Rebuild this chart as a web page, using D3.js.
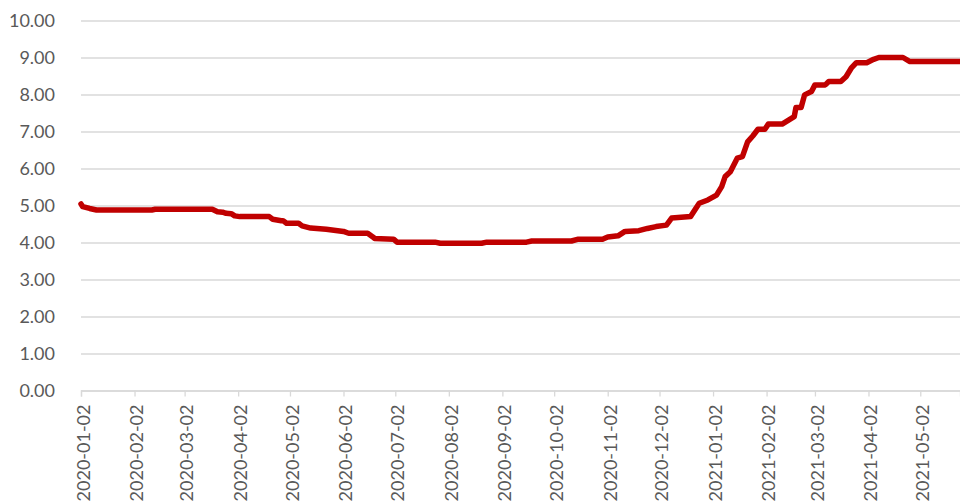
<!DOCTYPE html>
<html>
<head>
<meta charset="utf-8">
<script src="https://cdn.jsdelivr.net/npm/d3@7"></script>
<style>
  html, body { margin: 0; padding: 0; background: #fff; }
  svg { display: block; }
  .tick text { font-family: Lato, "Open Sans", sans-serif; fill: #595959; }
</style>
</head>
<body>
<svg id="chart" width="960" height="501"></svg>
<script>
// Series: date of each change point and the level on that date
const dates = [
  "2020-01-02","2020-01-03","2020-01-07","2020-01-11","2020-02-12","2020-02-14",
  "2020-03-18","2020-03-21","2020-03-24","2020-03-26","2020-03-29","2020-03-31",
  "2020-04-03","2020-04-20","2020-04-22","2020-04-27","2020-04-28","2020-04-30",
  "2020-05-07","2020-05-09","2020-05-14","2020-05-23","2020-06-02","2020-06-05",
  "2020-06-16","2020-06-19","2020-06-20","2020-07-01","2020-07-03","2020-07-25",
  "2020-07-28","2020-08-21","2020-08-24","2020-09-16","2020-09-19","2020-10-12",
  "2020-10-16","2020-10-30","2020-11-02","2020-11-08","2020-11-12","2020-11-20",
  "2020-11-25","2020-11-30","2020-12-06","2020-12-09","2020-12-20","2020-12-23",
  "2020-12-25","2020-12-30","2021-01-04","2021-01-07","2021-01-09","2021-01-12",
  "2021-01-16","2021-01-19","2021-01-22","2021-01-25","2021-01-28","2021-02-01",
  "2021-02-03","2021-02-11","2021-02-18","2021-02-19","2021-02-22","2021-02-24",
  "2021-02-28","2021-03-02","2021-03-08","2021-03-10","2021-03-17","2021-03-20",
  "2021-03-23","2021-03-26","2021-04-01","2021-04-05","2021-04-08","2021-04-22",
  "2021-04-26","2021-05-25"
];
const values = [
  5.04, 4.97, 4.92, 4.88, 4.88, 4.90,
  4.90, 4.83, 4.82, 4.79, 4.78, 4.72,
  4.70, 4.70, 4.63, 4.59, 4.59, 4.52,
  4.52, 4.45, 4.39, 4.36, 4.30, 4.25,
  4.25, 4.15, 4.11, 4.09, 4.01, 4.01,
  3.98, 3.98, 4.01, 4.01, 4.04, 4.04,
  4.09, 4.09, 4.15, 4.18, 4.30, 4.32,
  4.38, 4.43, 4.47, 4.66, 4.70, 4.92,
  5.06, 5.15, 5.28, 5.51, 5.78, 5.91,
  6.28, 6.32, 6.72, 6.88, 7.06, 7.06,
  7.20, 7.20, 7.40, 7.65, 7.65, 7.99,
  8.08, 8.26, 8.26, 8.35, 8.35, 8.48,
  8.71, 8.86, 8.86, 8.95, 9.00, 9.00,
  8.89, 8.89
];
// Axis tick labels
const xTickLabels = [
  "2020-01-02","2020-02-02","2020-03-02","2020-04-02","2020-05-02","2020-06-02",
  "2020-07-02","2020-08-02","2020-09-02","2020-10-02","2020-11-02","2020-12-02",
  "2021-01-02","2021-02-02","2021-03-02","2021-04-02","2021-05-02"
];
const yTicks = [0, 1, 2, 3, 4, 5, 6, 7, 8, 9, 10];

const parse = d3.utcParse("%Y-%m-%d");
const fmt = d3.utcFormat("%Y-%m-%d");
const data = dates.map((d, i) => ({ date: parse(d), value: values[i] }));

const svg = d3.select("#chart");
const plot = { left: 81, right: 960, top: 20.5, bottom: 390.5 };

const x = d3.scaleUtc()
  .domain([parse("2020-01-02"), parse("2021-05-25")])
  .range([plot.left, plot.right]);
const y = d3.scaleLinear().domain([0, 10]).range([plot.bottom, plot.top]);

// Horizontal gridlines with value labels
const yAxis = d3.axisLeft(y)
  .tickValues(yTicks)
  .tickFormat(d3.format(".2f"))
  .tickSize(-(plot.right - plot.left))
  .tickPadding(26);
const gy = svg.append("g")
  .attr("transform", `translate(${plot.left},0)`)
  .call(yAxis);
gy.select(".domain").remove();
gy.selectAll(".tick line").attr("stroke", "#d9d9d9").attr("stroke-width", 1.3);
gy.selectAll(".tick text").attr("font-size", 18);

// Date axis along the bottom
const xAxis = d3.axisBottom(x)
  .tickValues(xTickLabels.map(parse))
  .tickFormat(fmt)
  .tickSizeOuter(0)
  .tickSize(6);
const gx = svg.append("g")
  .attr("transform", `translate(0,${plot.bottom})`)
  .call(xAxis);
gx.select(".domain").attr("stroke", "#d9d9d9").attr("stroke-width", 1.3);
gx.selectAll(".tick line").attr("stroke", "#d9d9d9").attr("stroke-width", 1.3);
gx.selectAll(".tick text")
  .attr("font-size", 18)
  .attr("text-anchor", "end")
  .attr("transform", "rotate(-90)")
  .attr("x", -14)
  .attr("y", 2)
  .attr("dy", "0.35em");

// Series line
const line = d3.line()
  .x(d => x(d.date))
  .y(d => y(d.value));
svg.append("path")
  .datum(data)
  .attr("fill", "none")
  .attr("stroke", "#c00000")
  .attr("stroke-width", 5.5)
  .attr("stroke-linejoin", "round")
  .attr("stroke-linecap", "round")
  .attr("d", line);
</script>
</body>
</html>
